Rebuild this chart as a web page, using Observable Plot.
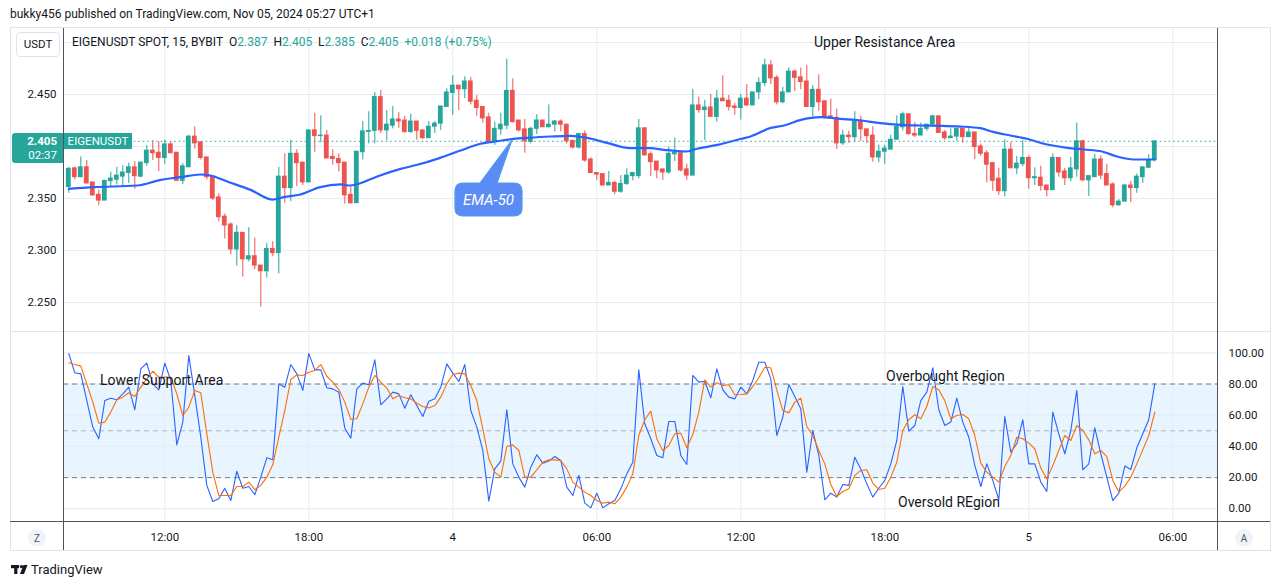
<!DOCTYPE html>
<html><head><meta charset="utf-8">
<script src="https://cdn.jsdelivr.net/npm/d3@7"></script>
<script src="https://cdn.jsdelivr.net/npm/@observablehq/plot@0.6"></script>
<style>
body{margin:0;background:#fff;font-family:Roboto,"DejaVu Sans",sans-serif;color:#131722;}
#root{position:relative;width:1281px;height:587px;overflow:hidden;background:#fff;}
.abs{position:absolute;}
.txt{position:absolute;white-space:nowrap;line-height:1;}
.hl{position:absolute;height:1px;}
.vl{position:absolute;width:1px;}
</style></head><body><div id="root"></div>
<script>
(function(){
// ---------------- DATA ----------------
const opens = [2.361,2.379,2.3705,2.380,2.3655,2.3535,2.348,2.3667,2.368,2.371,2.3745,2.380,2.371,2.384,2.396,2.394,2.389,2.402,2.394,2.367,
2.380,2.4095,2.404,2.3895,2.371,2.351,2.3325,2.325,2.301,2.317,2.2915,2.2945,2.2855,2.280,2.3015,2.2975,2.371,2.360,2.393,2.3845,
2.3655,2.4155,2.410,2.4105,2.390,2.388,2.3845,2.3535,2.3455,2.3945,2.414,2.415,2.4475,2.4155,2.420,2.426,2.425,2.414,2.424,2.4155,
2.408,2.419,2.422,2.438,2.4515,2.4585,2.455,2.4625,2.444,2.438,2.428,2.404,2.4165,2.420,2.4535,2.425,2.4165,2.4045,2.417,2.425,
2.4185,2.421,2.424,2.421,2.4055,2.399,2.412,2.3875,2.3745,2.3735,2.3625,2.365,2.3565,2.364,2.3715,2.3715,2.4175,2.3925,2.3855,2.378,
2.375,2.3925,2.3935,2.378,2.372,2.4395,2.435,2.4375,2.4285,2.446,2.444,2.4385,2.437,2.446,2.4395,2.452,2.461,2.478,2.466,2.4425,
2.452,2.472,2.4665,2.4625,2.438,2.4545,2.4435,2.429,2.4275,2.403,2.4105,2.409,2.425,2.4165,2.4105,2.3895,2.395,2.397,2.4065,2.4185,
2.431,2.412,2.4105,2.417,2.421,2.429,2.4135,2.408,2.4095,2.417,2.409,2.4135,2.400,2.3935,2.384,2.369,2.357,2.397,2.379,2.383,
2.389,2.3695,2.370,2.3625,2.358,2.389,2.376,2.3695,2.378,2.405,2.3675,2.3705,2.3875,2.3735,2.3635,2.3435,2.347,2.3625,2.360,2.3705,
2.3795,2.387];
const highs = [2.380,2.380,2.390,2.3865,2.3655,2.358,2.367,2.3753,2.380,2.3815,2.384,2.3855,2.3845,2.401,2.4055,2.4045,2.406,2.404,2.394,2.3835,
2.4105,2.419,2.404,2.3895,2.371,2.3545,2.335,2.3265,2.324,2.317,2.322,2.312,2.2855,2.307,2.3085,2.380,2.393,2.406,2.397,2.3845,
2.4155,2.432,2.4295,2.4155,2.397,2.393,2.3845,2.361,2.395,2.424,2.4335,2.452,2.454,2.4345,2.4385,2.4325,2.429,2.431,2.424,2.4155,
2.424,2.424,2.4385,2.4555,2.468,2.4585,2.467,2.4665,2.449,2.438,2.432,2.4235,2.432,2.484,2.465,2.425,2.426,2.4185,2.4305,2.425,
2.440,2.425,2.4255,2.421,2.4055,2.412,2.415,2.389,2.3745,2.3735,2.376,2.3665,2.372,2.3785,2.3745,2.426,2.4175,2.395,2.3855,2.378,
2.3995,2.408,2.3935,2.383,2.455,2.4475,2.4445,2.450,2.454,2.468,2.449,2.4415,2.450,2.4595,2.452,2.466,2.484,2.4825,2.468,2.457,
2.4755,2.4735,2.4755,2.478,2.4585,2.469,2.4435,2.4455,2.436,2.4155,2.4145,2.4335,2.429,2.4165,2.419,2.4015,2.401,2.411,2.4295,2.433,
2.431,2.423,2.4225,2.421,2.430,2.429,2.4155,2.417,2.417,2.417,2.418,2.4135,2.4025,2.396,2.384,2.379,2.4065,2.404,2.3905,2.4055,
2.391,2.3795,2.381,2.3625,2.393,2.389,2.379,2.3895,2.4225,2.406,2.372,2.3925,2.391,2.383,2.365,2.349,2.3635,2.3665,2.3735,2.380,
2.392,2.405];
const lows = [2.355,2.368,2.370,2.364,2.352,2.343,2.348,2.3615,2.363,2.3605,2.3645,2.359,2.370,2.381,2.3865,2.376,2.383,2.3935,2.367,2.3635,
2.380,2.3975,2.387,2.368,2.348,2.3275,2.311,2.296,2.285,2.2745,2.289,2.2815,2.2455,2.2735,2.294,2.2775,2.3455,2.347,2.3615,2.3625,
2.3655,2.3945,2.4035,2.3885,2.382,2.3755,2.3445,2.3445,2.3455,2.387,2.4025,2.4025,2.4125,2.4055,2.417,2.4175,2.4125,2.4125,2.406,2.407,
2.4075,2.4125,2.4155,2.438,2.430,2.4345,2.446,2.440,2.429,2.4225,2.4035,2.401,2.411,2.416,2.4225,2.414,2.3935,2.4025,2.4115,2.4185,
2.4185,2.414,2.414,2.4025,2.3975,2.3975,2.385,2.3745,2.3675,2.3625,2.3625,2.3535,2.355,2.3625,2.367,2.369,2.3905,2.371,2.369,2.3675,
2.3735,2.3855,2.3755,2.3675,2.372,2.432,2.4055,2.4285,2.4235,2.4435,2.434,2.430,2.4255,2.4385,2.4395,2.445,2.4575,2.4595,2.440,2.441,
2.452,2.453,2.4545,2.438,2.4285,2.434,2.4265,2.4265,2.397,2.401,2.403,2.404,2.405,2.403,2.385,2.3845,2.383,2.397,2.4065,2.415,
2.4105,2.4085,2.4105,2.4145,2.419,2.413,2.406,2.408,2.405,2.403,2.4085,2.3875,2.3905,2.365,2.357,2.353,2.3515,2.379,2.373,2.3805,
2.359,2.3625,2.357,2.3515,2.358,2.3705,2.3625,2.366,2.3705,2.366,2.352,2.3705,2.368,2.3625,2.341,2.3425,2.347,2.346,2.355,2.3645,
2.3795,2.385];
const closes = [2.3785,2.3705,2.380,2.3645,2.353,2.348,2.367,2.3692,2.372,2.375,2.380,2.3715,2.3845,2.396,2.3935,2.389,2.402,2.3935,2.367,2.381,
2.4095,2.403,2.389,2.3705,2.350,2.332,2.324,2.301,2.317,2.2915,2.2945,2.2855,2.280,2.3015,2.2975,2.371,2.360,2.393,2.384,2.3655,
2.4155,2.410,2.4105,2.3885,2.388,2.384,2.353,2.3455,2.395,2.4145,2.415,2.4475,2.4155,2.421,2.426,2.424,2.414,2.424,2.415,2.408,
2.419,2.422,2.4385,2.452,2.4585,2.455,2.4625,2.443,2.437,2.427,2.4035,2.417,2.421,2.4535,2.4235,2.4155,2.405,2.417,2.425,2.4185,
2.421,2.424,2.421,2.405,2.399,2.412,2.3865,2.3745,2.373,2.3625,2.365,2.3565,2.364,2.372,2.3745,2.4175,2.3915,2.385,2.377,2.375,
2.393,2.394,2.377,2.372,2.4395,2.435,2.4375,2.4285,2.446,2.4435,2.438,2.437,2.446,2.4395,2.452,2.461,2.478,2.4655,2.4425,2.452,
2.472,2.466,2.462,2.438,2.4545,2.4425,2.4275,2.4265,2.403,2.4105,2.409,2.424,2.4165,2.410,2.3895,2.395,2.398,2.4065,2.419,2.431,
2.412,2.4105,2.417,2.421,2.429,2.413,2.408,2.4095,2.417,2.409,2.4135,2.3995,2.393,2.3825,2.367,2.357,2.397,2.379,2.3835,2.389,
2.3695,2.3705,2.362,2.358,2.389,2.375,2.3695,2.379,2.405,2.3675,2.3715,2.3875,2.372,2.3625,2.3435,2.347,2.3625,2.360,2.371,2.380,
2.387,2.405];

// EMA-50 readings: candle position -> value
const emaIdx = [0,4.2,11.4,15.3,18.6,21.9,23.6,26.4,30.3,33.9,35.8,38.6,41.9,45.3,46.9,48.6,51.4,55.3,58.1,61.9,65.3,68.6,71.4,74.2,76.4,80.3,83.6,86.4,89.7,93.6,96.9,99.2,102.8,104.7,108.1,112.1,113.6,117,119.2,122,125.3,128.6,132,135.3,138.6,141.9,145.3,148.6,151.9,154.2,156.9,159.7,162.5,166.4,169.2,172.2,174.7,177.5,181];
const emaVal = [2.3593,2.3609,2.3625,2.3679,2.3705,2.3731,2.3721,2.3663,2.3583,2.349,2.3513,2.3538,2.3609,2.3635,2.3625,2.3647,2.3712,2.3785,2.3824,2.3891,2.3962,2.4026,2.4051,2.4074,2.4083,2.4096,2.4103,2.4083,2.4035,2.3984,2.3984,2.3968,2.3952,2.3978,2.4016,2.4074,2.4096,2.4179,2.4202,2.4256,2.4282,2.4266,2.425,2.4224,2.4208,2.4202,2.4199,2.4192,2.4176,2.4138,2.4106,2.4074,2.4026,2.3987,2.3971,2.3952,2.3904,2.3875,2.3875];

const stochK = [99.5,87.2,86.5,69.4,52.4,44.9,69.4,70.9,69.9,73.7,78.0,63.5,89.7,93.4,80.1,76.3,93.4,82.3,41.0,55.6,
98.3,72.6,45.9,15.0,4.7,6.4,13.2,5.3,24.1,13.2,14.3,9.0,20.3,32.7,31.4,80.1,78.0,92.5,86.5,75.9,
99.5,89.1,89.1,77.6,76.9,74.8,51.7,45.3,76.9,80.6,79.5,95.5,66.7,70.5,74.8,73.7,64.5,73.1,66.2,59.2,
69.0,70.5,78.0,92.9,87.0,81.6,92.5,63.0,52.4,37.4,4.9,25.6,30.6,63.5,28.8,20.3,13.9,26.7,34.6,29.3,
30.6,33.5,31.0,13.9,8.5,21.4,3.6,0.6,10.0,0.6,3.2,5.3,12.8,22.4,29.9,89.1,54.5,44.9,34.2,32.7,
56.0,56.0,34.2,28.4,85.5,81.2,81.8,71.2,89.7,76.3,71.6,70.5,78.0,73.7,82.3,94.0,94.0,83.3,47.0,58.8,
79.7,72.0,64.1,23.5,50.2,34.2,5.8,10.0,7.5,15.6,15.0,33.1,25.6,16.0,7.5,13.2,18.2,28.8,43.8,78.4,
49.8,53.4,69.4,74.8,90.4,63.5,53.4,55.6,70.9,55.6,45.9,27.8,14.3,28.8,18.2,5.8,59.2,36.3,41.7,57.1,
28.8,28.8,17.1,11.1,62.0,48.1,35.3,50.2,75.9,25.0,28.8,51.9,35.3,20.3,5.3,10.0,27.4,25.2,39.1,48.1,
57.3,80.1];
const stochD = [93.6,92.5,91.5,80.1,68.4,54.9,55.6,62.0,69.9,71.6,74.4,72.0,78.0,83.3,88.2,84.4,84.4,84.4,73.7,59.8,
65.2,75.9,74.4,48.1,23.5,8.5,8.5,8.5,14.3,14.3,17.1,12.2,15.0,20.3,28.4,45.9,63.0,82.9,85.9,85.5,
87.6,88.7,92.5,85.0,81.2,76.5,68.4,57.3,57.7,67.3,78.0,85.5,81.2,77.4,70.5,72.6,71.2,70.5,67.7,65.6,
64.7,66.2,71.6,80.1,86.1,87.0,86.5,79.1,69.4,51.3,32.1,23.5,20.3,40.0,41.0,37.4,20.3,20.3,25.0,29.9,
31.4,31.4,31.0,25.6,17.1,13.9,10.7,8.5,5.3,3.6,4.3,3.2,7.5,13.9,22.4,47.0,57.1,62.6,44.9,37.4,
40.6,48.1,48.5,39.1,47.6,62.0,82.7,78.0,80.8,79.1,79.5,73.1,73.3,73.7,78.4,84.0,90.8,90.4,76.3,63.0,
61.5,68.4,70.9,52.8,47.0,37.4,28.8,15.6,7.9,11.1,12.8,21.4,24.6,25.0,16.5,12.4,13.2,20.3,29.9,50.2,
57.1,60.3,57.7,65.6,78.4,76.3,69.4,57.7,59.8,60.5,57.7,47.0,29.3,23.5,20.3,17.1,27.1,34.2,45.9,44.9,
42.1,38.5,26.1,19.2,27.8,37.4,47.0,43.8,53.4,50.2,44.2,35.3,37.4,33.5,18.2,10.7,14.5,20.3,28.8,37.8,
47.0,62.0];

const priceGrid = [2.25,2.30,2.35,2.40,2.45,2.50];
const priceLabels = [2.25,2.30,2.35,2.45];
const stochTicks = [0,20,40,60,80,100];
const timeTicks = ["2024-11-03T12:00Z","2024-11-03T18:00Z","2024-11-04T00:00Z","2024-11-04T06:00Z","2024-11-04T12:00Z","2024-11-04T18:00Z","2024-11-05T00:00Z","2024-11-05T06:00Z"].map(s=>new Date(s));

// ---------------- BUILD ----------------
const UP="#26a69a", DOWN="#ef5350", GRID="#e3edf3";
const T0 = Date.UTC(2024,10,3,8,0), STEP = 15*60*1000;
const tOf = i => new Date(T0 + i*STEP);
const candles = opens.map((o,i)=>({t:tOf(i), o, h:highs[i], l:lows[i], c:closes[i]}));
const ema = emaIdx.map((i,k)=>({t:tOf(i), v:emaVal[k]}));
const stoch = stochK.map((k,i)=>({t:tOf(i), k, d:stochD[i]}));
const xDomain = [tOf(-0.883), tOf(191.45)];
const col = d => d.c >= d.o ? UP : DOWN;
const fontFam = 'Roboto,"DejaVu Sans",sans-serif';
const last = candles[candles.length-1];

const pricePlot = Plot.plot({
  width:1281, height:303, marginLeft:63, marginRight:64, marginTop:0, marginBottom:0,
  style:{background:"transparent", fontFamily:fontFam, fontSize:"11.5px", color:"#131722"},
  x:{type:"utc", domain:xDomain, axis:null},
  y:{domain:[2.22212,2.51346], axis:null},
  color:{type:"identity"},
  marks:[
    Plot.ruleY(priceGrid,{stroke:GRID}),
    Plot.ruleX(timeTicks,{stroke:GRID}),
    Plot.axisY(priceLabels,{anchor:"left", tickSize:0, tickPadding:7, tickFormat:d3.format(".3f"), fill:"#131722", fontSize:11.5, label:null}),
    Plot.ruleX(candles,{x:"t", y1:"l", y2:"h", stroke:col, strokeWidth:1}),
    Plot.rect(candles,{x1:d=>new Date(+d.t-STEP/2), x2:d=>new Date(+d.t+STEP/2), y1:"o", y2:"c", fill:col, insetLeft:0.6, insetRight:0.6, insetTop:-0.5, insetBottom:-0.5}),
    Plot.line(ema,{x:"t", y:"v", stroke:"#2962ff", strokeWidth:2.2, curve:"monotone-x"}),
    Plot.ruleY([last.c],{x1:tOf(10.9), x2:xDomain[1], stroke:UP, strokeDasharray:"1.5,3"})
  ]
});

const stochPlot = Plot.plot({
  width:1281, height:217, marginLeft:63, marginRight:64, marginTop:0, marginBottom:29,
  style:{background:"transparent", fontFamily:fontFam, fontSize:"11.5px", color:"#131722"},
  x:{type:"utc", domain:xDomain, axis:null},
  y:{domain:[-8.14,112.4], axis:null},
  marks:[
    Plot.rect([0],{y1:20, y2:80, fill:"#2196f3", fillOpacity:0.1}),
    Plot.ruleY(stochTicks,{stroke:GRID}),
    Plot.ruleX(timeTicks,{stroke:GRID}),
    Plot.ruleY([80,20],{stroke:"#787b86", strokeDasharray:"5,4"}),
    Plot.ruleY([50],{stroke:"#787b86", strokeOpacity:0.5, strokeDasharray:"5,4"}),
    Plot.line(stoch,{x:"t", y:"k", stroke:"#2962ff", strokeWidth:1.1}),
    Plot.line(stoch,{x:"t", y:"d", stroke:"#ff6d00", strokeWidth:1.1}),
    Plot.axisY(stochTicks,{anchor:"right", tickSize:0, tickPadding:11, tickFormat:d3.format(".2f"), fill:"#131722", fontSize:11.5, label:null}),
    Plot.axisX(timeTicks,{anchor:"bottom", tickSize:0, tickPadding:11, fill:"#131722", fontSize:11.5, label:null,
      tickFormat:d=> d.getUTCHours()===0 ? String(d.getUTCDate()) : d3.utcFormat("%H:%M")(d)})
  ]
});

const root = document.getElementById("root");
function place(el, left, topPx){ el.style.position="absolute"; el.style.left=left+"px"; el.style.top=topPx+"px"; root.appendChild(el); return el; }
place(pricePlot, 0, 28);
place(stochPlot, 0, 333);

function div(cls, css, html){ const d=document.createElement("div"); d.className=cls; d.style.cssText=css; if(html!=null) d.innerHTML=html; root.appendChild(d); return d; }

// frame & separators
div("abs","left:10px;top:27px;width:1259px;height:522px;border:1px solid #e0e3eb;pointer-events:none;");
div("hl","left:10px;top:331px;width:1260px;background:#e0e3eb;");
div("hl","left:10px;top:521px;width:1260px;background:#50535e;");
div("vl","left:63px;top:28px;height:522px;background:#50535e;");
div("vl","left:1217px;top:28px;height:522px;background:#50535e;");

// header
div("txt","left:10px;top:8px;font-size:12px;color:#131722;","bukky456 published on TradingView.com, Nov 05, 2024 05:27 UTC+1");
div("abs","left:16px;top:32px;width:42px;height:23px;border:1px solid #e0e3eb;border-radius:4px;background:#fff;font-size:11.5px;line-height:23px;text-align:center;color:#131722;","USDT");
const lg = (l,v)=>`<span style="color:#131722">${l}</span><span style="color:${UP}">${v}</span>`;
div("txt",`left:72px;top:36px;font-size:12px;color:#131722;`,
  `EIGENUSDT SPOT, 15, BYBIT&nbsp;&nbsp;${lg("O","2.387")}&nbsp;&nbsp;${lg("H","2.405")}&nbsp;&nbsp;${lg("L","2.385")}&nbsp;&nbsp;${lg("C","2.405")}&nbsp;&nbsp;<span style="color:${UP}">+0.018 (+0.75%)</span>`);

// price tags
div("abs",`left:12px;top:133px;width:51px;height:30px;background:${UP};border-radius:3px 0 0 3px;color:#fff;font-size:11.5px;line-height:1;`,
  `<div style="position:absolute;right:6px;top:3px;font-weight:bold">2.405</div><div style="position:absolute;right:6px;top:17px">02:37</div>`);
div("abs",`left:64px;top:133px;width:68px;height:16px;background:${UP};color:#fff;font-size:11.5px;line-height:16px;text-align:center;`,"EIGENUSDT");

// annotations
const ann = (t,x,y)=>div("txt",`left:${x}px;top:${y-7}px;font-size:14px;color:#131722;`,t);
ann("Upper Resistance Area",814,42);
ann("Lower Support Area",100,380);
ann("Overbought Region",886,376);
ann("Oversold REgion",898,502);

// EMA-50 callout
const ns="http://www.w3.org/2000/svg";
const svg=document.createElementNS(ns,"svg");
svg.setAttribute("width","1281"); svg.setAttribute("height","587");
svg.style.cssText="position:absolute;left:0;top:0;pointer-events:none;";
svg.innerHTML=`<path d="M463 183 L480 183 L512 140 L497 183 L514 183 Q522 183 522 191 L522 208 Q522 216 514 216 L463 216 Q455 216 455 208 L455 191 Q455 183 463 183 Z" fill="#5b8bf4" stroke="#4f9be8" stroke-width="1.2"/>
<text x="488.5" y="205" text-anchor="middle" font-family='${fontFam}' font-style="italic" font-size="15" fill="#fff">EMA-50</text>
<circle cx="37" cy="538" r="9" fill="#f0f3fa"/><text x="37" y="542" text-anchor="middle" font-family='${fontFam}' font-size="10" fill="#50535e">Z</text>
<circle cx="1244" cy="538" r="9" fill="#f0f3fa"/><text x="1244" y="542" text-anchor="middle" font-family='${fontFam}' font-size="10" fill="#50535e">A</text>
<g fill="#131722"><rect x="11" y="565" width="8" height="3.2"/><rect x="14.2" y="565" width="3.2" height="9"/><circle cx="21.5" cy="566.6" r="1.7"/><path d="M23.5 565 L27.5 565 L24 574 L20 574 Z"/></g>
<text x="31" y="574" font-family='${fontFam}' font-size="13" fill="#131722">TradingView</text>`;
root.appendChild(svg);
})();
</script>
</body></html>
